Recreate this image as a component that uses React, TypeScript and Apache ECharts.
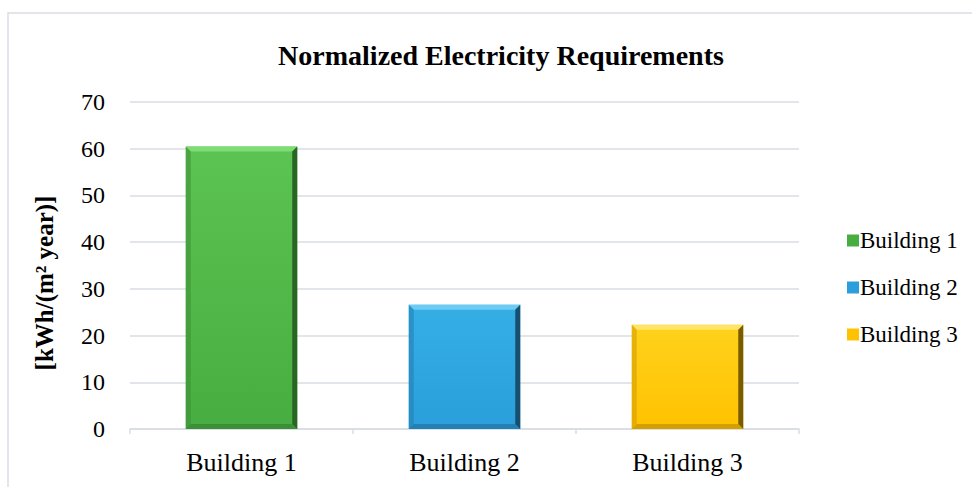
import React, { useEffect, useRef } from "react";
import * as echarts from "echarts";

const categories = ["Building 1", "Building 2", "Building 3"];
const seriesNames = ["Building 1", "Building 2", "Building 3"];
const values = [60.5, 26.6, 22.3];
const yTicks = { min: 0, max: 70, interval: 10 };
const yAxisTitle = "[kWh/(m\u00b2 year)]";

// face gradient, top bevel, right shade, bottom/left shade
const palettes = [
  { top: "#5cc452", bottom: "#47ad40", light: "#7fdc74", dark: "#2a6526", mid: "#3d8f37" },
  { top: "#35aee6", bottom: "#2a9fdb", light: "#6ccbf3", dark: "#174f70", mid: "#2380b3" },
  { top: "#ffd21c", bottom: "#ffc200", light: "#ffe46a", dark: "#7a5c00", mid: "#d49f00" },
];

const FONT = "Liberation Serif";
const AXIS_COLOR = "#d9dde3";

function makeRenderItem(idx: number) {
  const pal = palettes[idx];
  return (params: any, api: any) => {
    const cat = api.value(0);
    const v = api.value(1);
    const top = api.coord([cat, v]);
    const bot = api.coord([cat, 0]);
    const w = api.size([1, 0])[0] * 0.5;
    const x0 = top[0] - w / 2;
    const x1 = top[0] + w / 2;
    const y0 = top[1];
    const y1 = bot[1];
    const b = 5;
    return {
      type: "group",
      children: [
        {
          type: "rect",
          shape: { x: x0, y: y0, width: x1 - x0, height: y1 - y0 },
          style: {
            fill: new echarts.graphic.LinearGradient(0, 0, 0, 1, [
              { offset: 0, color: pal.top },
              { offset: 1, color: pal.bottom },
            ]),
          },
        },
        {
          type: "polygon",
          shape: { points: [[x0, y0], [x1, y0], [x1 - b, y0 + b], [x0 + b, y0 + b]] },
          style: { fill: pal.light },
        },
        {
          type: "polygon",
          shape: { points: [[x0, y0], [x0 + b, y0 + b], [x0 + b, y1 - b], [x0, y1]] },
          style: { fill: pal.mid, opacity: 0.6 },
        },
        {
          type: "polygon",
          shape: { points: [[x0, y1], [x0 + b, y1 - b], [x1 - b, y1 - b], [x1, y1]] },
          style: { fill: pal.mid },
        },
        {
          type: "polygon",
          shape: { points: [[x1, y0], [x1, y1], [x1 - b, y1 - b], [x1 - b, y0 + b]] },
          style: { fill: pal.dark },
        },
      ],
    };
  };
}

export default function App() {
  const ref = useRef<HTMLDivElement>(null);

  useEffect(() => {
    if (!ref.current) return;
    const chart = echarts.init(ref.current, undefined, { renderer: "svg" });
    chart.setOption({
      animation: false,
      backgroundColor: "#ffffff",
      title: {
        text: "Normalized Electricity Requirements",
        left: 496,
        top: 36,
        textAlign: "center",
        textStyle: { fontFamily: FONT, fontSize: 28, fontWeight: "bold", color: "#000" },
      },
      graphic: [
        {
          type: "rect",
          shape: { x: 8, y: 13, width: 1000, height: 520 },
          style: { fill: "none", stroke: AXIS_COLOR, lineWidth: 1.5 },
          silent: true,
        },
        {
          type: "text",
          x: 44,
          y: 283,
          rotation: Math.PI / 2,
          style: {
            text: yAxisTitle,
            fontFamily: FONT,
            fontSize: 25,
            fontWeight: "bold",
            fill: "#000",
            align: "center",
            verticalAlign: "middle",
          },
          silent: true,
        },
      ],
      legend: {
        orient: "vertical",
        left: 842,
        top: 224,
        icon: "rect",
        itemWidth: 12,
        itemHeight: 12,
        itemGap: 24,
        data: seriesNames,
        textStyle: { fontFamily: FONT, fontSize: 23, color: "#000", padding: [0, 0, 0, -4] },
      },
      grid: { left: 130, right: 173, top: 102, bottom: 58 },
      xAxis: {
        type: "category",
        data: categories,
        axisLine: { lineStyle: { color: AXIS_COLOR, width: 1.5 } },
        axisTick: { show: true, length: 5, lineStyle: { color: AXIS_COLOR, width: 1.5 } },
        axisLabel: { fontFamily: FONT, fontSize: 26, color: "#000", margin: 20 },
      },
      yAxis: {
        type: "value",
        min: yTicks.min,
        max: yTicks.max,
        interval: yTicks.interval,
        axisLine: { show: false },
        axisTick: { show: false },
        axisLabel: { fontFamily: FONT, fontSize: 24, color: "#000", margin: 25 },
        splitLine: { lineStyle: { color: AXIS_COLOR, width: 1.5 } },
      },
      series: seriesNames.map((name, i) => ({
        type: "custom",
        name,
        itemStyle: { color: palettes[i].bottom },
        renderItem: makeRenderItem(i),
        encode: { x: 0, y: 1 },
        data: [[i, values[i]]],
      })),
    });
    return () => chart.dispose();
  }, []);

  return (
    <div
      ref={ref}
      style={{ position: "fixed", left: 0, top: 0, width: 972, height: 487 }}
    />
  );
}
